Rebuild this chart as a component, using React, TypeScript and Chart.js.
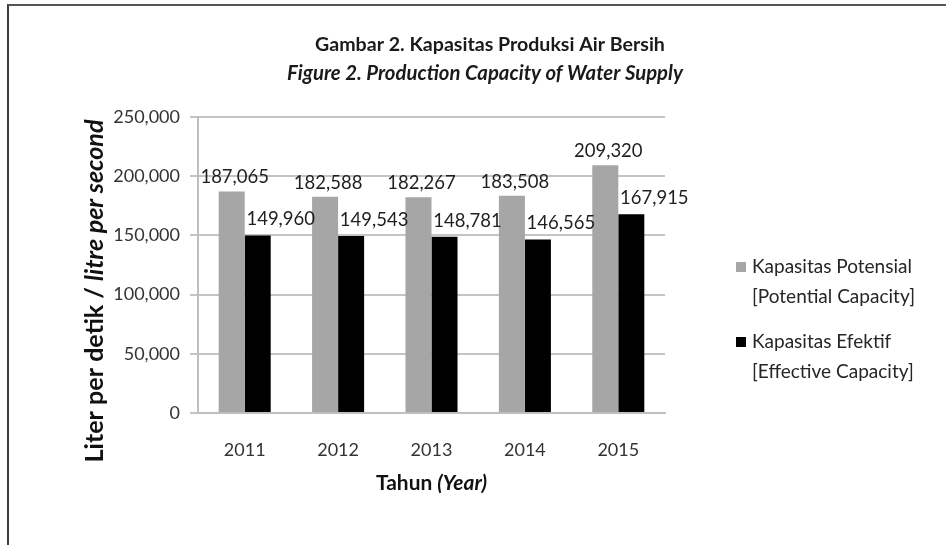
import React, { useEffect, useRef } from "react";
import { Chart, registerables } from "chart.js";

Chart.register(...registerables);

const years = ["2011", "2012", "2013", "2014", "2015"];
const potential = [187065, 182588, 182267, 183508, 209320];
const effective = [149960, 149543, 148781, 146565, 167915];
const yMax = 250000;
const yStep = 50000;

const titleLine1 = "Gambar 2. Kapasitas Produksi Air Bersih";
const titleLine2 = "Figure 2. Production Capacity of Water Supply";
const yTitleParts = [
  { text: "Liter per detik / ", italic: false },
  { text: "litre per second", italic: true },
];
const xTitleParts = [
  { text: "Tahun ", italic: false },
  { text: "(Year)", italic: true },
];
const legendItems = [
  { lines: ["Kapasitas Potensial", "[Potential Capacity]"], color: "#a6a6a6" },
  { lines: ["Kapasitas Efektif", "[Effective Capacity]"], color: "#000000" },
];

const FONT = "Lato, 'Open Sans', sans-serif";
const fmt = (v: number) => v.toLocaleString("en-US");

type Part = { text: string; italic: boolean };

function fontStr(size: number, bold: boolean, italic: boolean) {
  return `${italic ? "italic " : ""}${bold ? "bold " : ""}${size}px ${FONT}`;
}

function measureParts(ctx: CanvasRenderingContext2D, parts: Part[], size: number, bold: boolean) {
  let w = 0;
  for (const p of parts) {
    ctx.font = fontStr(size, bold, p.italic);
    w += ctx.measureText(p.text).width;
  }
  return w;
}

function fitSize(ctx: CanvasRenderingContext2D, parts: Part[], target: number, bold: boolean) {
  const base = 20;
  const w = measureParts(ctx, parts, base, bold);
  return (base * target) / w;
}

function drawParts(
  ctx: CanvasRenderingContext2D,
  parts: Part[],
  size: number,
  bold: boolean,
  cx: number,
  cy: number,
  color: string
) {
  const total = measureParts(ctx, parts, size, bold);
  let x = cx - total / 2;
  ctx.fillStyle = color;
  ctx.textBaseline = "middle";
  ctx.textAlign = "left";
  for (const p of parts) {
    ctx.font = fontStr(size, bold, p.italic);
    ctx.fillText(p.text, x, cy);
    x += ctx.measureText(p.text).width;
  }
}

const decorPlugin = {
  id: "decor",
  afterDraw(chart: any) {
    const ctx: CanvasRenderingContext2D = chart.ctx;
    ctx.save();
    // Titles
    const t1: Part[] = [{ text: titleLine1, italic: false }];
    const t2: Part[] = [{ text: titleLine2, italic: true }];
    const s1 = fitSize(ctx, t1, 350, true);
    drawParts(ctx, t1, s1, true, 490, 45, "#1a1a1a");
    const s2 = fitSize(ctx, t2, 396, true);
    drawParts(ctx, t2, s2, true, 485, 73, "#1a1a1a");

    // X title
    const sx = fitSize(ctx, xTitleParts, 111, true);
    drawParts(ctx, xTitleParts, sx, true, (chart.chartArea.left + chart.chartArea.right) / 2, 483, "#111111");

    // Y title (rotated)
    const sy = fitSize(ctx, yTitleParts, 343, true);
    ctx.save();
    ctx.translate(95, 291);
    ctx.rotate(-Math.PI / 2);
    drawParts(ctx, yTitleParts, sy, true, 0, 0, "#111111");
    ctx.restore();

    // Legend
    const ls = fitSize(ctx, [{ text: legendItems[0].lines[0], italic: false }], 160, false);
    const itemTops = [267, 342];
    legendItems.forEach((item, i) => {
      const y0 = itemTops[i];
      ctx.fillStyle = item.color;
      ctx.fillRect(736, y0 - 5, 10, 10);
      ctx.font = fontStr(ls, false, false);
      ctx.fillStyle = "#262626";
      ctx.textAlign = "left";
      ctx.textBaseline = "middle";
      item.lines.forEach((ln, k) => ctx.fillText(ln, 752, y0 + k * 30));
    });

    // Data labels
    ctx.font = `18.5px ${FONT}`;
    ctx.fillStyle = "#1f1f1f";
    ctx.textAlign = "center";
    ctx.textBaseline = "middle";
    chart.data.datasets.forEach((ds: any, di: number) => {
      const meta = chart.getDatasetMeta(di);
      meta.data.forEach((bar: any, j: number) => {
        const { x, y } = bar.getProps(["x", "y"], true);
        const dx = di === 0 ? 3 : 23;
        const dy = di === 0 ? -14 : -16;
        ctx.fillText(fmt(ds.data[j]), x + dx, y + dy);
      });
    });
    ctx.restore();
  },
};

export default function App() {
  const ref = useRef<HTMLCanvasElement | null>(null);
  useEffect(() => {
    if (!ref.current) return;
    const chart = new Chart(ref.current, {
      type: "bar",
      data: {
        labels: years,
        datasets: [
          {
            label: legendItems[0].lines.join(" "),
            data: potential,
            backgroundColor: "#a6a6a6",
            categoryPercentage: 0.557,
            barPercentage: 1,
          },
          {
            label: legendItems[1].lines.join(" "),
            data: effective,
            backgroundColor: "#000000",
            categoryPercentage: 0.557,
            barPercentage: 1,
          },
        ],
      },
      options: {
        responsive: false,
        animation: false,
        layout: { padding: { left: 0, top: 117, right: 281, bottom: 0 } },
        plugins: {
          legend: { display: false },
          title: { display: false },
          tooltip: { enabled: false },
        },
        scales: {
          x: {
            grid: { display: false, drawTicks: false },
            border: { display: true, color: "#bfbfbf", width: 2 },
            ticks: { font: { family: FONT, size: 18 }, color: "#333333", padding: 26 },
            afterFit: (s: any) => {
              s.height = 132;
            },
          },
          y: {
            min: 0,
            max: yMax,
            ticks: {
              stepSize: yStep,
              font: { family: FONT, size: 18 },
              color: "#333333",
              padding: 10,
              callback: (v: any) => fmt(Number(v)),
            },
            grid: { color: "#c4c4c4", lineWidth: 2, tickLength: 8, drawTicks: true },
            border: { display: true, color: "#bfbfbf", width: 2 },
            afterFit: (s: any) => {
              s.width = 198;
            },
          },
        },
      },
      plugins: [decorPlugin],
    });
    return () => chart.destroy();
  }, []);

  return (
    <div style={{ position: "fixed", left: 0, top: 0, width: 946, height: 545, background: "#fff" }}>
      <canvas ref={ref} width={946} height={545} style={{ position: "absolute", left: 0, top: 0, width: 946, height: 545 }} />
      <div
        style={{
          position: "absolute",
          left: 7,
          top: 4,
          width: 939,
          height: 541,
          borderLeft: "2px solid #3c3c3c",
          borderTop: "2px solid #555",
          boxSizing: "border-box",
          pointerEvents: "none",
        }}
      />
    </div>
  );
}
